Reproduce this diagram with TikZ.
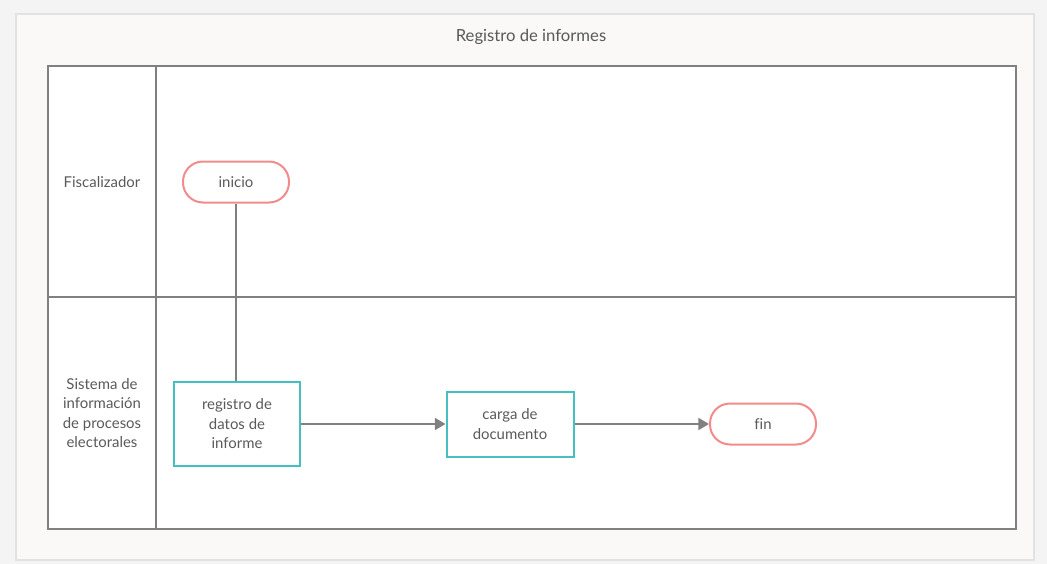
\documentclass[tikz,border=0pt]{standalone}
\usepackage{fontspec}
\setmainfont{Lato}[Ligatures=NoCommon]
\usetikzlibrary{arrows.meta}

\definecolor{pagegray}{HTML}{F4F4F4}
\definecolor{framefill}{HTML}{FAF9F8}
\definecolor{frameline}{HTML}{E2E2E2}
\definecolor{lanegray}{HTML}{808080}
\definecolor{textgray}{HTML}{5A5A5A}
\definecolor{termred}{HTML}{F28B8B}
\definecolor{boxteal}{HTML}{45BFBF}

\begin{document}
\begin{tikzpicture}[x=0.75pt, y=-0.75pt,
  every node/.style={text=textgray, font=\fontsize{11.2}{14.6}\selectfont, align=center},
  terminal/.style={draw=termred, fill=white, line width=1.5pt, rounded corners=15pt,
    minimum width=79.5pt, minimum height=30.75pt},
  process/.style={draw=boxteal, fill=white, line width=1.5pt, inner sep=2pt},
  flow/.style={draw=lanegray, line width=1.4pt, -{Triangle[length=8pt, width=9pt]}}]

\useasboundingbox (0,0) rectangle (1047,564);
\fill[pagegray] (0,0) rectangle (1047,564);
\draw[frameline, fill=framefill, line width=1pt] (16,14) rectangle (1034,560);

% pool and lanes
\fill[white] (48,66) rectangle (1016,529);
\draw[lanegray, line width=1.3pt] (48,66) rectangle (1016,529);
\draw[lanegray, line width=1.3pt] (156,66) -- (156,529);
\draw[lanegray, line width=1.3pt] (48,297) -- (1016,297);

\node[font=\fontsize{12.5}{15}\selectfont] (title) at (531,37) {Registro de informes};
\node (fisc) at (102,182) {Fiscalizador};
\node (sipe) at (102,413) {Sistema de\\información\\de procesos\\electorales};

% steps
\node[terminal] (inicio) at (236,182) {inicio};
\node[process, minimum width=94.5pt, minimum height=63pt] (registro) at (237,424) {registro de\\datos de\\informe};
\node[process, minimum width=95.25pt, minimum height=48.75pt] (carga) at (510,424) {carga de\\documento};
\node[terminal] (fin) at (763,424) {fin};

\draw[lanegray, line width=1.4pt] (inicio) -- (inicio |- registro.north);
\draw[flow] (registro) -- (carga);
\draw[flow] (carga) -- (fin);

\end{tikzpicture}
\end{document}
